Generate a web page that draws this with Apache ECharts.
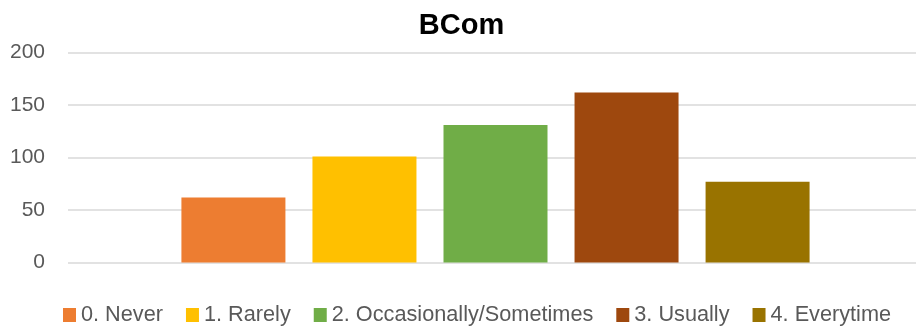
<!DOCTYPE html>
<html><head><meta charset="utf-8">
<script src="https://cdn.jsdelivr.net/npm/echarts@6/dist/echarts.min.js"></script>
<style>html,body{margin:0;padding:0;background:#fff;overflow:hidden}#c{width:923px;height:330px}</style>
</head><body><div id="c"></div>
<script>
const categories = ['BCom'];
const seriesNames = ['0. Never', '1. Rarely', '2. Occasionally/Sometimes', '3. Usually', '4. Everytime'];
const seriesValues = [62, 101, 131, 162, 77];
const seriesColors = ['#ED7D31', '#FFC000', '#70AD47', '#9E480E', '#997300'];
const yTicks = [0, 50, 100, 150, 200];

const chart = echarts.init(document.getElementById('c'), null, {renderer: 'canvas'});
const font = '"Liberation Sans", "Open Sans", sans-serif';
chart.setOption({
  animation: false,
  title: {text: 'BCom', left: 'center', top: 6,
    textStyle: {fontFamily: font, fontSize: 29, fontWeight: 'bold', color: '#000'}},
  grid: {left: 68, right: 0, top: 52.5, bottom: 67.5},
  legend: {bottom: -1, left: 58, itemWidth: 13, itemHeight: 14, itemGap: 23,
    icon: 'rect', textStyle: {fontFamily: font, fontSize: 21.7, color: '#595959'}},
  xAxis: {type: 'category', data: categories, axisLine: {show: false}, axisTick: {show: false}, axisLabel: {show: false}},
  yAxis: {type: 'value', min: yTicks[0], max: yTicks[yTicks.length - 1], interval: 50,
    axisLabel: {fontFamily: font, fontSize: 21, color: '#595959', margin: 23},
    splitLine: {lineStyle: {color: '#d9d9d9', width: 1.5}}},
  series: seriesNames.map((n, i) => ({
    name: n, type: 'bar', barWidth: 104, barGap: '26%',
    itemStyle: {color: seriesColors[i]},
    data: [seriesValues[i]]
  }))
});
</script></body></html>
